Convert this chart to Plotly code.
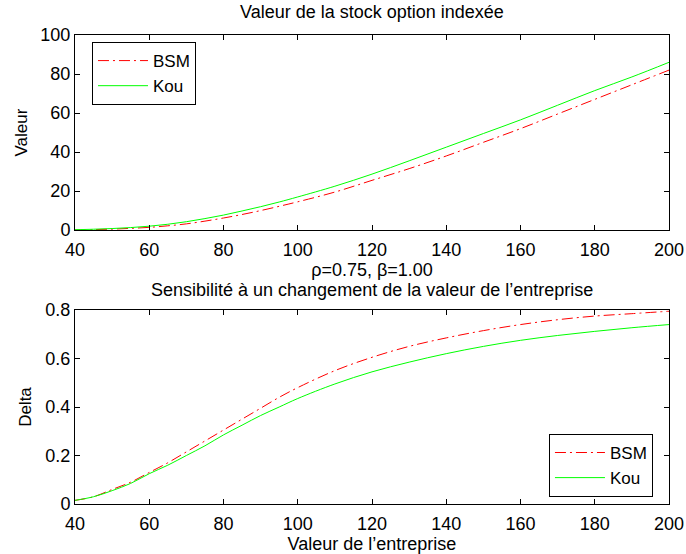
import plotly.graph_objects as go

# Data
x_val = [40, 45, 50, 55, 60, 65, 70, 75, 80, 85, 90, 95, 100, 110, 120, 130, 140, 150, 160, 170, 180, 190, 200]
valeur_bsm = [0.1, 0.25, 0.5, 0.9, 1.4, 2.2, 3.2, 4.6, 6.2, 8.0, 10.0, 12.2, 14.5, 19.5, 25.5, 31.5, 38.0, 45.0, 52.0, 59.5, 67.0, 74.5, 82.0]
valeur_kou = [0.2, 0.45, 0.8, 1.3, 2.0, 3.0, 4.3, 5.9, 7.7, 9.8, 12.0, 14.4, 17.0, 22.5, 28.7, 35.5, 42.5, 49.5, 56.5, 64.0, 71.5, 78.5, 86.0]
delta_bsm = [0.015, 0.03, 0.06, 0.09, 0.13, 0.17, 0.215, 0.26, 0.305, 0.35, 0.395, 0.44, 0.48, 0.55, 0.605, 0.65, 0.685, 0.715, 0.74, 0.76, 0.775, 0.785, 0.795]
delta_kou = [0.015, 0.03, 0.055, 0.085, 0.125, 0.16, 0.2, 0.24, 0.285, 0.325, 0.365, 0.40, 0.435, 0.495, 0.545, 0.585, 0.62, 0.65, 0.675, 0.695, 0.712, 0.727, 0.74]

x_ticks = [40, 60, 80, 100, 120, 140, 160, 180, 200]
y1_ticks = [0, 20, 40, 60, 80, 100]
y2_ticks = [0, 0.2, 0.4, 0.6, 0.8]
y2_ticklabels = ["0", "0.2", "0.4", "0.6", "0.8"]

FONT = "Liberation Sans, Arial, Helvetica, sans-serif"
FS = 18
LEG_FS = 17
RED = "#ff0000"
GREEN = "#00ff00"
DASHDOT = "11px,4px,2px,4px"

fig = go.Figure()
fig.add_trace(go.Scatter(x=x_val, y=valeur_bsm, name="BSM", mode="lines",
                         line=dict(color=RED, width=1, dash=DASHDOT, shape="spline"),
                         xaxis="x", yaxis="y", legend="legend"))
fig.add_trace(go.Scatter(x=x_val, y=valeur_kou, name="Kou", mode="lines",
                         line=dict(color=GREEN, width=1, shape="spline"),
                         xaxis="x", yaxis="y", legend="legend"))
fig.add_trace(go.Scatter(x=x_val, y=delta_bsm, name="BSM", mode="lines",
                         line=dict(color=RED, width=1, dash=DASHDOT, shape="spline"),
                         xaxis="x2", yaxis="y2", legend="legend2"))
fig.add_trace(go.Scatter(x=x_val, y=delta_kou, name="Kou", mode="lines",
                         line=dict(color=GREEN, width=1, shape="spline"),
                         xaxis="x2", yaxis="y2", legend="legend2"))

axis_common = dict(showline=True, linecolor="black", linewidth=1, mirror="ticks",
                   ticks="inside", ticklen=5, tickcolor="black", tickwidth=1,
                   showgrid=False, zeroline=False, automargin=False,
                   tickfont=dict(family=FONT, size=FS, color="black"))

top_domain = [0.584, 1.0]
bot_domain = [0.0, 0.4136]

legend_common = dict(bordercolor="black", borderwidth=1, bgcolor="white",
                     font=dict(family=FONT, size=LEG_FS), tracegroupgap=0,
                     itemwidth=50)

fig.update_layout(
    width=686, height=554,
    margin=dict(l=75, r=17, t=35, b=50),
    paper_bgcolor="white", plot_bgcolor="white",
    font=dict(family=FONT, size=FS, color="black"),
    showlegend=True,
    xaxis=dict(domain=[0, 1], anchor="y", range=[40, 200], tickvals=x_ticks,
               ticklabelstandoff=3,
               title=dict(text="ρ=0.75, β=1.00", standoff=0, font=dict(size=FS)),
               **axis_common),
    yaxis=dict(domain=top_domain, anchor="x", range=[0, 100], tickvals=y1_ticks,
               title=dict(text="Valeur", standoff=8, font=dict(size=17)),
               **axis_common),
    xaxis2=dict(domain=[0, 1], anchor="y2", range=[40, 200], tickvals=x_ticks,
                ticklabelstandoff=3,
                title=dict(text="Valeur de l\u2019entreprise", standoff=0, font=dict(size=FS)),
                **axis_common),
    yaxis2=dict(domain=bot_domain, anchor="x2", range=[0, 0.8], tickvals=y2_ticks,
                ticktext=y2_ticklabels,
                title=dict(text="Delta", standoff=9, font=dict(size=17)),
                **axis_common),
    legend=dict(x=0.0286, y=0.985, xanchor="left", yanchor="top", **legend_common),
    legend2=dict(x=0.973, y=0.015, xanchor="right", yanchor="bottom", **legend_common),
    annotations=[
        dict(text="Valeur de la stock option indexée", x=0.5, y=(504 - 12) / 469,
             xref="paper", yref="paper", xanchor="center", yanchor="middle",
             showarrow=False, font=dict(family=FONT, size=FS)),
        dict(text="Sensibilité à un changement de la valeur de l\u2019entreprise", x=0.5,
             y=(504 - 290) / 469, xref="paper", yref="paper", xanchor="center",
             yanchor="middle", showarrow=False, font=dict(family=FONT, size=FS)),
    ],
)

fig.write_html("out.html")
